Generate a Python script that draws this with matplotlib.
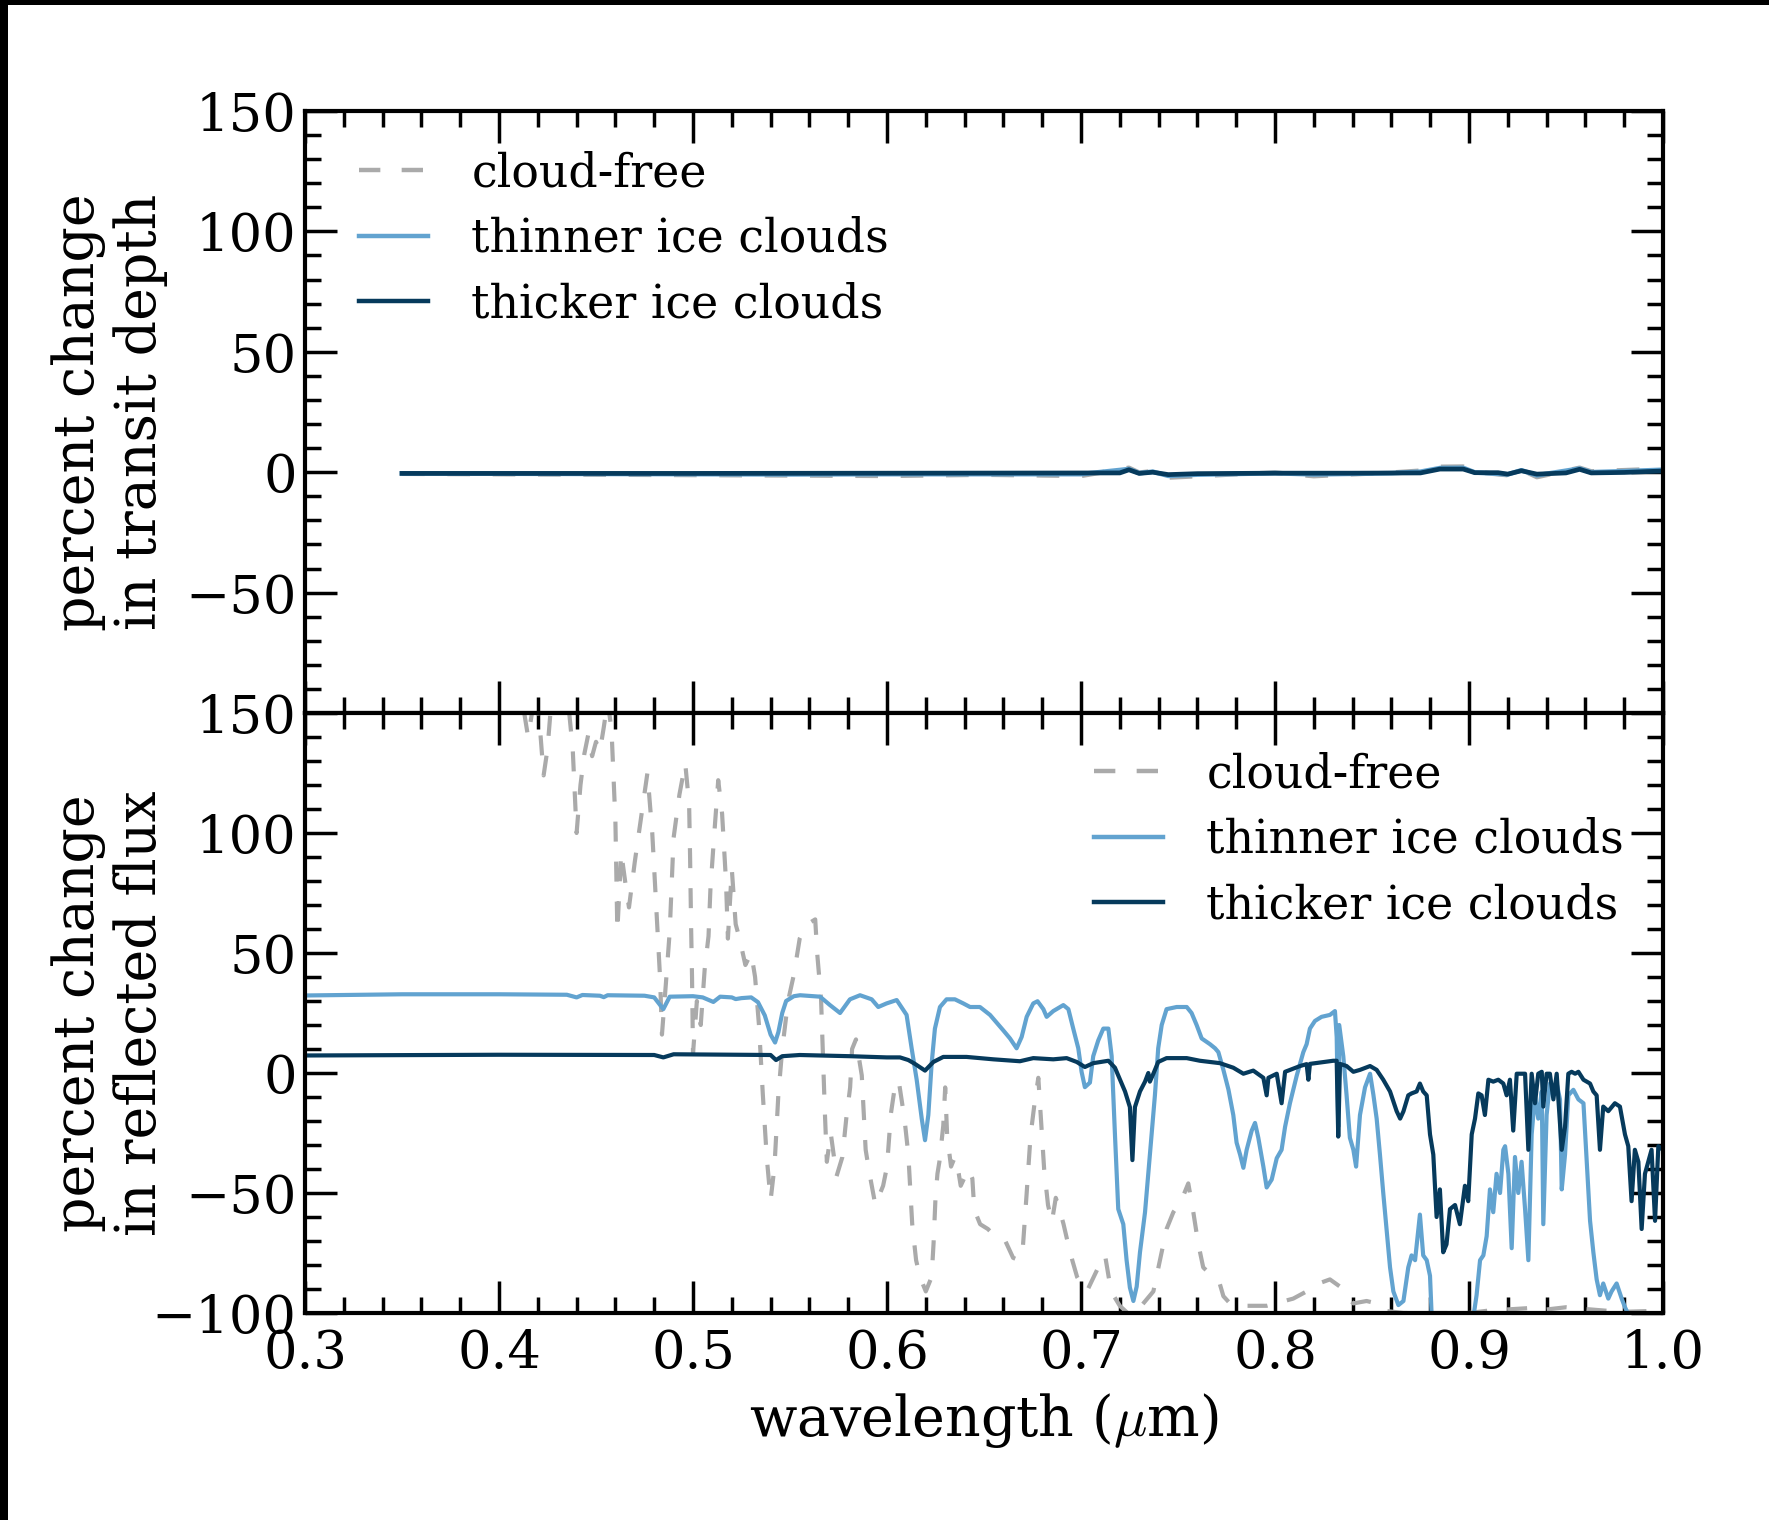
import matplotlib
matplotlib.use('Agg')
import matplotlib.pyplot as plt
from matplotlib.patches import Rectangle
from matplotlib.ticker import MultipleLocator

plt.rcParams['font.family'] = ['DejaVu Serif']
plt.rcParams['mathtext.fontset'] = 'cm'

# ---------------- data ----------------
labels = ['cloud-free', 'thinner ice clouds', 'thicker ice clouds']
colors = ['#aaaaaa', '#62a3d0', '#063a5c']

# top panel: percent change in transit depth
top_free_x = [0.35, 0.55, 0.60, 0.65, 0.70, 0.7247, 0.730, 0.737, 0.745, 0.76, 0.78, 0.80, 0.82, 0.84,
              0.86, 0.875, 0.885, 0.897, 0.903, 0.920, 0.927, 0.935, 0.957, 0.963, 0.98, 1.0]
top_free_y = [-0.6, -1.3, -1.5, -1.0, -1.5, 1.8, -0.2, 0.4, -2.2, -1.6, -0.8, -0.2, -1.6, -0.8,
              -0.2, 0.6, 2.2, 2.3, 0.1, -1.2, 1.0, -2.0, 1.8, 0.3, 0.8, 1.4]
top_thin_x = [0.35, 0.55, 0.60, 0.70, 0.7247, 0.730, 0.737, 0.745, 0.76, 0.80, 0.82, 0.86, 0.875,
              0.885, 0.897, 0.903, 0.920, 0.927, 0.935, 0.957, 0.963, 0.98, 1.0]
top_thin_y = [-0.5, -0.9, -0.8, -0.8, 1.3, -0.4, 0.2, -1.5, -1.0, -0.4, -0.9, -0.4, 0.2,
              1.7, 1.8, -0.1, -0.9, 0.8, -1.3, 1.5, 0.0, 0.4, 1.0]
top_thick_x = [0.35, 0.50, 0.72, 0.7247, 0.730, 0.737, 0.745, 0.76, 0.80, 0.84, 0.875, 0.885, 0.897,
               0.903, 0.915, 0.920, 0.927, 0.935, 0.950, 0.957, 0.963, 0.98, 1.0]
top_thick_y = [-0.5, -0.5, -0.3, 1.0, -0.5, 0.0, -1.0, -0.6, -0.4, -0.4, -0.3, 1.3, 1.3,
               -0.2, -0.2, -0.8, 0.6, -0.8, -0.3, 1.2, -0.3, -0.1, 0.5]

# bottom panel: percent change in reflected flux
bot_free_x = [0.30, 0.35, 0.40, 0.41, 0.415, 0.417, 0.419, 0.421, 0.423, 0.425, 0.427, 0.430, 0.435,
              0.438, 0.440, 0.442, 0.444, 0.446, 0.448, 0.450, 0.452, 0.454, 0.456, 0.458, 0.460,
              0.461, 0.463, 0.465, 0.467, 0.470, 0.473, 0.4765, 0.479, 0.481, 0.483, 0.484, 0.486,
              0.488, 0.490, 0.493, 0.496, 0.498, 0.4985, 0.499, 0.4995, 0.500, 0.502, 0.504, 0.506,
              0.508, 0.509, 0.511, 0.513, 0.515, 0.517, 0.518, 0.520, 0.522, 0.524, 0.527, 0.530,
              0.532, 0.534, 0.536, 0.538, 0.540, 0.542, 0.544, 0.546, 0.549, 0.552, 0.555, 0.558,
              0.561, 0.563, 0.564, 0.566, 0.567, 0.568, 0.569, 0.571, 0.574, 0.577, 0.579, 0.581,
              0.582, 0.584, 0.587, 0.589, 0.591, 0.594, 0.598, 0.600, 0.602, 0.604, 0.606, 0.609,
              0.611, 0.613, 0.615, 0.617, 0.620, 0.623, 0.624, 0.625, 0.626, 0.627, 0.629, 0.630,
              0.631, 0.633, 0.635, 0.637, 0.638, 0.642, 0.644, 0.645, 0.648, 0.652, 0.657, 0.661,
              0.665, 0.668, 0.670, 0.672, 0.674, 0.676, 0.678, 0.6795, 0.681, 0.683, 0.685, 0.687,
              0.689, 0.691, 0.693, 0.6955, 0.698, 0.701, 0.703, 0.7089, 0.7124, 0.7149, 0.717, 0.720,
              0.724, 0.728, 0.7373, 0.7407, 0.7441, 0.7476, 0.7518, 0.7553, 0.7579, 0.7604, 0.7630,
              0.7682, 0.7716, 0.7734, 0.7768, 0.7820, 0.7957, 0.8094, 0.8163, 0.8215, 0.8283, 0.8335,
              0.8369, 0.8404, 0.8472, 0.8524, 0.8558, 0.8662, 0.88, 0.90, 0.91, 0.93, 0.935, 0.95,
              0.955, 0.97, 0.98, 1.0]
bot_free_y = [400, 300, 200, 165, 140, 150, 160, 145, 124, 135, 155, 170, 160,
              135, 100, 120, 133, 141, 132, 138, 134, 144, 155, 143, 105,
              59, 92, 80, 69, 88, 105, 125, 100, 70, 40, 16, 37,
              59, 98, 116, 129, 112, 90, 62, 40, 8, 30, 20, 43,
              57, 77, 100, 122, 108, 80, 56, 85, 62, 56, 45, 50,
              40, 20, -9, -35, -53, -39, -9, 10, 30, 41, 56, 61,
              63, 64, 50, 31, 7, -17, -37, -25, -43, -35, -19, -6,
              10, 14, -1, -32, -42, -55, -47, -39, -17, -6, -3, -19,
              -34, -63, -78, -85, -91, -85, -71, -52, -42, -37, -22, -6,
              -26, -39, -35, -42, -47, -40, -44, -57, -63, -65, -69, -70,
              -77, -78, -73, -50, -26, -13, -2, -21, -40, -55, -62, -52,
              -57, -63, -70, -78, -85, -89, -91, -81, -76, -88, -93, -97,
              -100, -100, -91, -78, -65, -58, -53, -46, -58, -71, -81,
              -85, -88, -93, -96, -97, -97, -94, -91, -88, -86, -89,
              -93, -96, -95, -96, -99, -100, -100, -100, -99, -98, -99, -97.6,
              -98, -99, -99.5, -99]

bot_thin_x = [0.30, 0.35, 0.40, 0.435, 0.440, 0.443, 0.452, 0.454, 0.456, 0.475, 0.480, 0.4847, 0.488,
              0.500, 0.505, 0.5105, 0.514, 0.520, 0.522, 0.525, 0.530, 0.5335, 0.537, 0.540, 0.5423,
              0.544, 0.546, 0.548, 0.552, 0.5552, 0.5655, 0.5706, 0.5758, 0.5809, 0.5861, 0.5921,
              0.5955, 0.5998, 0.6050, 0.6101, 0.6127, 0.6153, 0.6179, 0.6196, 0.6213, 0.6230, 0.6247,
              0.6273, 0.6307, 0.6350, 0.6393, 0.6428, 0.6479, 0.6531, 0.6565, 0.6600, 0.6634, 0.6668,
              0.6694, 0.6720, 0.6754, 0.6776, 0.6806, 0.6823, 0.6857, 0.6909, 0.6935, 0.6960, 0.6986,
              0.7003, 0.7020, 0.7046, 0.7063, 0.7089, 0.7115, 0.7141, 0.7158, 0.7175, 0.7192, 0.7218,
              0.7235, 0.7252, 0.7270, 0.7287, 0.7304, 0.7330, 0.7355, 0.7381, 0.7398, 0.7416, 0.7441,
              0.7493, 0.7545, 0.7570, 0.7596, 0.7622, 0.7665, 0.7691, 0.7708, 0.7734, 0.7760, 0.7785,
              0.7802, 0.7820, 0.7837, 0.7854, 0.7880, 0.7897, 0.7914, 0.7940, 0.7957, 0.7983, 0.8009,
              0.8034, 0.8052, 0.8077, 0.8112, 0.8146, 0.8163, 0.8180, 0.8206, 0.8240, 0.8283, 0.8309,
              0.8318, 0.8326, 0.8331, 0.8352, 0.8369, 0.8386, 0.8404, 0.8418, 0.8438, 0.8464, 0.8490,
              0.8507, 0.8524, 0.8541, 0.8558, 0.8576, 0.8593, 0.8610, 0.8636, 0.8662, 0.8687, 0.8704,
              0.8722, 0.8747, 0.8764, 0.8782, 0.8799, 0.8808, 0.9022, 0.9039, 0.9057, 0.9074, 0.9091,
              0.9108, 0.9125, 0.9142, 0.9160, 0.9177, 0.9186, 0.9203, 0.9220, 0.9237, 0.9254, 0.9271,
              0.9289, 0.9306, 0.9323, 0.9340, 0.9357, 0.9375, 0.9383, 0.9400, 0.9417, 0.9435, 0.9452,
              0.9469, 0.9478, 0.9495, 0.9512, 0.9538, 0.9564, 0.9590, 0.9607, 0.9624, 0.9641, 0.9658,
              0.9675, 0.9692, 0.9718, 0.9735, 0.9761, 0.9787, 0.9804, 0.9830, 1.0]
bot_thin_y = [32.3, 32.8, 32.8, 32.6, 31.5, 32.5, 32.2, 31.6, 32.4, 32.2, 31.5, 26.6, 31.8,
              32.0, 31.5, 29.6, 31.8, 31.5, 30.8, 31.2, 31.5, 29.5, 24.0, 16.0, 12.7,
              17.0, 25.0, 30.0, 32.0, 32.4, 31.8, 28.3, 25.0, 30.7, 32.4, 30.7,
              27.5, 29.0, 30.4, 24.2, 10.3, -2.8, -19.0, -28.0, -17.5, 3.8, 18.5,
              27.5, 30.7, 30.7, 29.0, 27.5, 27.5, 24.2, 21.0, 17.7, 14.4, 10.3,
              15.0, 23.4, 29.0, 29.9, 26.6, 23.4, 25.8, 28.3, 26.6, 18.5, 10.3,
              0.5, -5.9, -4.0, 7.0, 13.6, 18.5, 18.5, 7.0, -25.6, -56.7, -63.0,
              -78.0, -89.4, -95.0, -89.0, -74.7, -58.0, -34.0, -9.3, 10.3, 20.0, 26.6,
              27.5, 27.5, 25.0, 20.0, 14.4, 12.0, 10.3, 8.7, 1.3, -6.9, -17.5,
              -29.0, -34.0, -39.5, -32.0, -24.0, -20.8, -27.0, -39.0, -47.7, -44.4, -35.5,
              -32.0, -22.4, -12.6, -1.1, 8.7, 12.0, 18.5, 21.7, 23.4, 24.2, 25.8,
              15.0, -22.4, 20.0, 7.0, -9.3, -27.0, -32.0, -39.0, -17.5, -6.0, -0.3,
              -9.0, -19.0, -34.0, -50.0, -66.0, -81.0, -91.0, -96.7, -95.0, -81.0, -76.0,
              -78.0, -59.0, -76.0, -78.0, -84.5, -102.0, -102.0, -92.6, -78.0, -76.0, -68.0,
              -48.5, -58.0, -42.0, -50.0, -32.0, -30.5, -42.0, -73.0, -35.0, -50.0, -37.0,
              -56.7, -78.0, -25.6, -9.3, -19.0, -7.7, -63.0, -17.5, -4.4, -9.3, -4.4,
              -11.0, -48.5, -34.0, -9.3, -7.0, -11.0, -12.6, -37.0, -61.6, -74.7, -86.0,
              -92.6, -87.7, -94.0, -91.0, -87.7, -94.0, -97.6, -102.0, -102.0]

bot_thick_x = [0.30, 0.40, 0.48, 0.4847, 0.490, 0.54, 0.5428, 0.546, 0.555, 0.5809, 0.5998, 0.6067,
               0.6110, 0.6144, 0.6196, 0.6239, 0.6290, 0.6410, 0.6548, 0.6685, 0.6754, 0.6857, 0.6926,
               0.6978, 0.7020, 0.7063, 0.7141, 0.7175, 0.7201, 0.7227, 0.7252, 0.7265, 0.7278, 0.7304,
               0.7330, 0.7347, 0.7355, 0.7373, 0.7398, 0.7441, 0.7545, 0.7613, 0.7716, 0.7785, 0.7837,
               0.7888, 0.7940, 0.7957, 0.7966, 0.8009, 0.8034, 0.8052, 0.8129, 0.8163, 0.8172, 0.8180,
               0.8300, 0.8318, 0.8326, 0.8335, 0.8369, 0.8404, 0.8438, 0.8490, 0.8524, 0.8558, 0.8593,
               0.8627, 0.8645, 0.8662, 0.8687, 0.8704, 0.8730, 0.8747, 0.8764, 0.8782, 0.8799, 0.8816,
               0.8833, 0.8850, 0.8867, 0.8884, 0.8902, 0.8928, 0.8953, 0.8979, 0.8996, 0.9014, 0.9031,
               0.9048, 0.9065, 0.9082, 0.9100, 0.9125, 0.9151, 0.9177, 0.9194, 0.9211, 0.9228, 0.9246,
               0.9263, 0.9289, 0.9306, 0.9323, 0.9340, 0.9357, 0.9375, 0.9383, 0.9400, 0.9417, 0.9435,
               0.9452, 0.9478, 0.9495, 0.9512, 0.9529, 0.9547, 0.9564, 0.9590, 0.9624, 0.9641, 0.9658,
               0.9675, 0.9692, 0.9718, 0.9752, 0.9778, 0.9804, 0.9821, 0.9838, 0.9855, 0.9873, 0.9890,
               0.9907, 0.9924, 0.9941, 0.9959, 0.9976, 1.0]
bot_thick_y = [7.3, 7.6, 7.5, 6.5, 7.8, 7.5, 5.4, 7.0, 7.5, 7.0, 6.5, 6.5,
               5.4, 3.8, 1.0, 4.6, 6.7, 6.7, 5.7, 4.9, 6.2, 5.7, 6.2,
               4.6, 2.5, 4.1, 5.1, 2.2, -2.8, -7.7, -14.2, -36.3, -14.2, -7.7,
               -3.6, 0.0, -3.6, -0.3, 4.6, 6.2, 6.2, 5.1, 4.1, 2.2, -0.3,
               1.0, -2.0, -9.3, -2.0, -0.3, -12.6, 0.5, 2.9, 3.7, -2.8, 3.8,
               5.1, 5.1, -26.5, 3.8, 2.9, 0.5, 1.3, 2.9, 1.3, -2.8, -7.7,
               -15.9, -19.0, -16.0, -9.3, -8.5, -7.7, -4.4, -7.7, -9.3, -25.6, -34.0,
               -60.0, -48.5, -74.7, -71.4, -56.7, -55.0, -63.0, -47.0, -53.4, -25.6, -19.0,
               -8.5, -9.3, -17.5, -2.8, -3.6, -2.8, -4.4, -9.3, -2.8, -24.0, -0.3,
               -0.3, -0.3, -32.0, -0.3, -12.6, -0.3, 0.5, -14.0, -0.3, -0.3, -11.0,
               -0.3, -32.0, -22.4, -0.3, 0.5, -0.3, 0.5, -2.8, -4.4, -7.7, -9.3,
               -32.0, -14.0, -15.9, -12.6, -14.0, -25.6, -30.5, -53.4, -32.0, -37.0, -65.0,
               -42.0, -37.0, -32.0, -61.6, -30.5, -32.0]

xticks = [0.3, 0.4, 0.5, 0.6, 0.7, 0.8, 0.9, 1.0]
xticklabels = ['0.3', '0.4', '0.5', '0.6', '0.7', '0.8', '0.9', '1.0']
yticks = [-100, -50, 0, 50, 100, 150]
top_yticklabels = ['', '\u221250', '0', '50', '100', '150']
bot_yticklabels = ['\u2212100', '\u221250', '0', '50', '100', '150']

# ---------------- figure ----------------
W, H = 1769, 1520
fig = plt.figure(figsize=(W / 100, H / 100), dpi=100)
fig.patch.set_facecolor('white')
fig.patches.append(Rectangle((0, 1 - 5 / H), 1, 5 / H, transform=fig.transFigure,
                             facecolor='black', edgecolor='none', zorder=10))
fig.patches.append(Rectangle((0, 0), 8 / W, 1, transform=fig.transFigure,
                             facecolor='black', edgecolor='none', zorder=10))

L, R = 305 / W, 1663 / W
ax1 = fig.add_axes([L, 1 - 713 / H, R - L, (713 - 111) / H])
ax2 = fig.add_axes([L, 1 - 1313 / H, R - L, (1313 - 713) / H])

TICK_FS = 38
LEG_FS = 33
LAB_FS = 40
dash = (4.8, 4.8)

for ax in (ax1, ax2):
    ax.set_xlim(0.3, 1.0)
    ax.set_ylim(-100, 150)
    ax.set_xticks(xticks)
    ax.xaxis.set_minor_locator(MultipleLocator(0.02))
    ax.yaxis.set_minor_locator(MultipleLocator(10))
    ax.tick_params(which='both', direction='in', top=True, right=True, width=2.5,
                   labelsize=TICK_FS)
    ax.tick_params(which='major', length=23)
    ax.tick_params(which='minor', length=11.5)
    ax.tick_params(axis='y', pad=6)
    ax.tick_params(axis='x', pad=11)
    for s in ax.spines.values():
        s.set_linewidth(3)
    ax.set_yticks(yticks)

ax1.set_yticklabels(top_yticklabels)
ax2.set_yticklabels(bot_yticklabels)
ax1.tick_params(labelbottom=False)
ax2.set_xticklabels(xticklabels)

lw_top = 3.4
ax1.plot(top_free_x, top_free_y, color=colors[0], lw=lw_top, ls=(0, dash), label=labels[0])
ax1.plot(top_thin_x, top_thin_y, color=colors[1], lw=lw_top, label=labels[1])
ax1.plot(top_thick_x, top_thick_y, color=colors[2], lw=lw_top, label=labels[2])

lw_bot = 3.0
ax2.plot(bot_free_x, bot_free_y, color=colors[0], lw=lw_bot, ls=(0, dash), label=labels[0])
ax2.plot(bot_thin_x, bot_thin_y, color=colors[1], lw=lw_bot, label=labels[1])
ax2.plot(bot_thick_x, bot_thick_y, color=colors[2], lw=lw_bot, label=labels[2])

leg_kw = dict(frameon=False, fontsize=LEG_FS, handlelength=1.5, handletextpad=0.95,
              labelspacing=0.44, borderpad=0, borderaxespad=0)
lg1 = ax1.legend(loc='upper left', bbox_to_anchor=(54 / 1358, 1 - 40 / 602), **leg_kw)
lg2 = ax2.legend(loc='upper right', bbox_to_anchor=(1 - 39 / 1358, 1 - 39 / 600), **leg_kw)
for lg in (lg1, lg2):
    for h in lg.legend_handles:
        h.set_linewidth(3.2)

ax1.set_ylabel('percent change\nin transit depth', fontsize=LAB_FS, linespacing=1.16)
ax2.set_ylabel('percent change\nin reflected flux', fontsize=LAB_FS, linespacing=1.16)
for ax in (ax1, ax2):
    ax.yaxis.set_label_coords(-0.1009, 0.5)
ax2.set_xlabel(r'wavelength ($\mu$m)', fontsize=LAB_FS)
ax2.xaxis.set_label_coords(0.5, -0.13)

fig.savefig('out.png', dpi=100, facecolor='white')
